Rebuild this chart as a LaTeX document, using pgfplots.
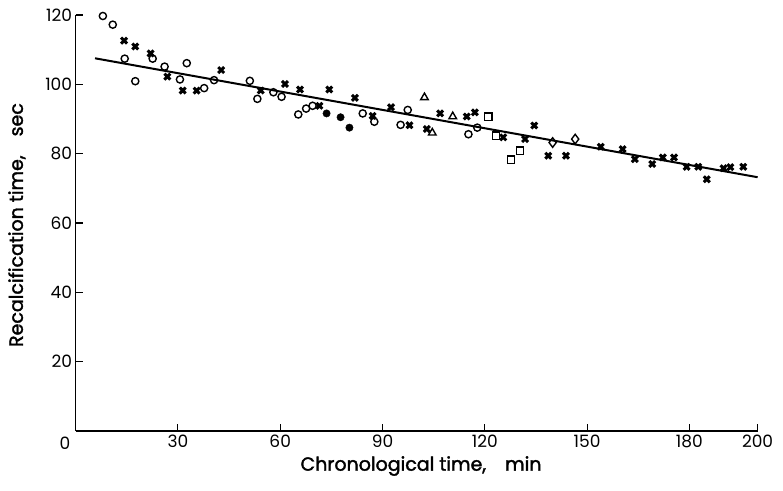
\documentclass[border=0pt]{standalone}
\usepackage{fontspec}
\setmainfont{Poppins}
\newfontfamily\labfont[FakeBold=1.8]{Poppins}
\usepackage{pgfplots}
\pgfplotsset{compat=1.18}
\begin{document}
\begin{tikzpicture}
\path[use as bounding box] (-75.6pt,-59pt) rectangle (707.4pt,431pt);
\begin{axis}[
  at={(0pt,0pt)}, anchor=south west,
  x=3.41pt, y=3.467pt,
  xmin=0, xmax=200, ymin=0, ymax=120,
  axis x line=bottom, axis y line=left,
  axis line style={-, line width=1.3pt},
  tick style={line width=1.1pt, black},
  major tick length=7pt,
  tick align=inside,
  xtick={30,60,90,120,150,180,200},
  ytick={20,40,60,80,100,120},
  /pgf/number format/assume math mode=true,
  tick label style={font=\fontsize{17}{17}\selectfont},
  clip=false,
  xlabel={\labfont Chronological time,\quad min},
  ylabel={\labfont Recalcification time,\quad sec},
  every axis x label/.style={at={(axis cs:101.3,-10.1)}, anchor=center, font=\fontsize{19}{19}\selectfont},
  every axis y label/.style={at={(axis cs:-17.2,59.4)}, anchor=center, rotate=90, font=\fontsize{19}{19}\selectfont},
]
\addplot[black, line width=2pt, no marks] coordinates {(5.7,107.5) (200,73.2)};
% open circles
\addplot[only marks, mark=o, mark size=3.6pt, mark options={line width=1.4pt, fill=white}, black] coordinates {
(8,119.7) (10.9,117.2) (14.4,107.4) (17.5,100.9) (22.6,107.4) (26.1,105.1) (30.6,101.4) (32.6,106.1)
(37.7,98.9) (40.6,101.2) (51.1,101.0) (53.3,95.8) (58.0,97.7) (60.4,96.4) (65.3,91.3) (67.6,93.0)
(69.5,93.8) (84.2,91.6) (87.6,89.2) (95.3,88.3) (97.4,92.6) (115.2,85.6) (117.8,87.5)};
% crosses
\addplot[only marks, mark=x, mark size=4.2pt, mark options={line width=3pt}, black] coordinates {
(14.2,112.6) (17.5,110.9) (22.0,108.9) (26.9,102.2) (31.4,98.2) (35.5,98.2) (42.7,104.1) (54.3,98.2)
(61.4,100.1) (65.8,98.5) (71.5,93.8) (74.4,98.5) (81.9,96.1) (87.1,90.9) (92.5,93.4) (97.9,88.2)
(103.0,87.1) (106.9,91.6) (114.7,90.7) (117.1,91.9) (125.4,84.7) (131.8,84.2) (134.5,88.1) (138.6,79.4)
(143.8,79.4) (154.0,82.0) (160.4,81.3) (164.0,78.4) (169.1,77.0) (172.2,78.9) (175.5,78.9) (179.2,76.2)
(182.6,76.2) (185.1,72.6) (190.0,75.8) (192.0,76.1) (195.8,76.2)};
% filled circles
\addplot[only marks, mark=*, mark size=3.7pt, black] coordinates {(73.6,91.6) (77.7,90.5) (80.3,87.5)};
% triangles
\addplot[only marks, mark=triangle, mark size=4.4pt, mark options={line width=1.4pt, fill=white}, black] coordinates {(102.3,96.2) (110.6,90.7) (104.6,86.0)};
% squares
\addplot[only marks, mark=square, mark size=3.7pt, mark options={line width=1.4pt, fill=white}, black] coordinates {(121.0,90.7) (123.3,85.2) (127.7,78.2) (130.3,80.8)};
% diamonds
\addplot[only marks, mark=diamond, mark size=4.8pt, mark options={line width=1.4pt, fill=white}, black] coordinates {(139.9,83.2) (146.5,84.2)};
\node[anchor=north, font=\fontsize{17}{17}\selectfont, inner sep=5.7pt] at (axis cs:-3.1,0) {0};
\end{axis}
\end{tikzpicture}
\end{document}
